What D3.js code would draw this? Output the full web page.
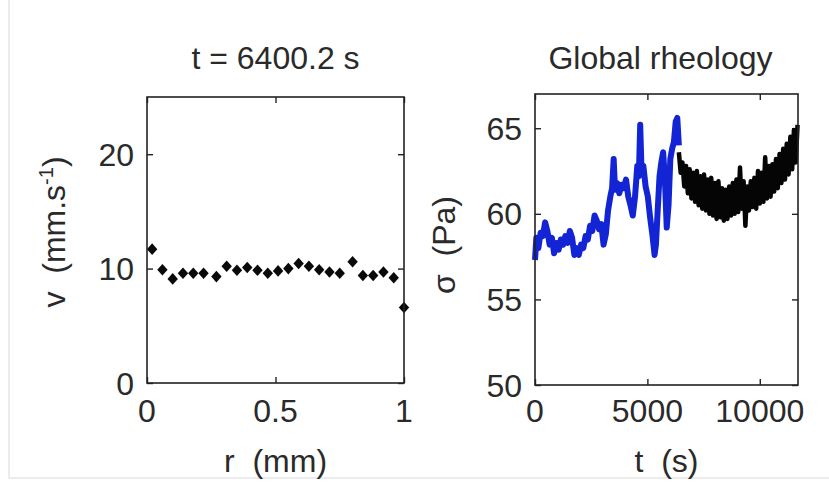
<!DOCTYPE html>
<html><head><meta charset="utf-8">
<script src="https://cdn.jsdelivr.net/npm/d3@7"></script>
<style>
html,body{margin:0;padding:0;background:#fff;}
svg text{font-family:"Liberation Sans",Arial,sans-serif;fill:#2a2a2a;}
</style></head>
<body>
<svg id="chart" width="829" height="483"></svg>
<script>
// ---- Left panel data: velocity profile at t = 6400.2 s
const rValues = [0.02,0.06,0.10,0.14,0.18,0.22,0.27,0.31,0.35,0.39,0.43,0.47,0.51,0.55,0.59,0.63,0.67,0.71,0.75,0.80,0.84,0.88,0.92,0.96,1.00];
const vValues = [11.7,9.9,9.1,9.6,9.6,9.6,9.3,10.2,9.85,10.1,9.85,9.6,9.8,10.0,10.45,10.2,9.9,9.7,9.6,10.6,9.4,9.4,9.7,9.2,6.6];
const leftXTicks = [0,0.5,1];
const leftYTicks = [0,10,20];

// ---- Right panel data: global rheology sigma(t)
const blueT = [0,60,150,250,350,450,550,650,750,850,950,1050,1150,1250,1350,1450,1550,1650,1750,1850,1950,2050,2150,2250,2350,2450,2550,2650,2750,2850,2950,3050,3150,3250,3350,3430,3500,3560,3650,3750,3850,3950,4050,4150,4250,4350,4450,4550,4620,4680,4740,4820,4920,5020,5120,5220,5320,5380,5450,5540,5620,5700,5780,5860,5940,6020,6100,6180,6260,6330,6400];
const blueSigma = [57.3,58.6,58.0,58.9,58.7,59.5,59.0,58.2,58.6,57.7,58.3,57.9,58.5,58.2,58.7,58.3,59.0,58.6,57.6,58.0,57.6,58.2,58.0,58.7,58.5,59.3,59.0,59.9,59.6,59.1,59.4,58.2,58.8,60.2,61.0,61.5,63.2,61.4,61.8,61.2,61.7,61.5,62.0,61.0,60.5,59.9,61.0,62.8,62.2,65.2,62.5,62.8,61.6,61.0,59.8,58.8,57.6,58.2,60.0,62.2,63.0,63.6,62.0,59.2,60.5,63.2,63.8,64.2,65.4,65.6,64.0];
const blackT = [6400,6480,6560,6640,6720,6800,6880,6960,7040,7120,7200,7280,7360,7440,7520,7600,7680,7760,7840,7920,8000,8080,8160,8240,8320,8400,8480,8560,8640,8720,8800,8880,8960,9040,9120,9200,9280,9360,9440,9520,9600,9680,9760,9840,9920,10000,10080,10160,10240,10320,10400,10480,10560,10640,10720,10800,10880,10960,11040,11120,11200,11280,11360,11440,11520,11600,11680];
const blackSigma = [63.6,62.4,63.0,61.6,62.8,61.2,62.6,60.9,62.4,60.7,62.5,60.5,62.2,60.3,62.3,60.2,62.0,60.0,62.1,59.9,61.8,59.7,61.9,59.8,61.5,59.6,61.4,59.7,61.6,59.9,61.8,60.0,62.0,60.1,62.7,60.3,61.9,59.3,61.6,60.2,61.9,60.4,62.1,60.3,62.5,60.6,62.4,60.7,63.3,60.9,62.8,61.0,62.9,61.3,63.2,61.5,63.5,61.8,63.8,62.0,64.1,62.3,64.5,62.6,64.9,63.0,65.2];
const rightXTicks = [0,5000,10000];
const rightYTicks = [50,55,60,65];

const svg = d3.select("#chart");
const FS = 32;
const axisColor = "#222";

// faint page edges of the original frame grab
svg.append("line").attr("x1",9).attr("x2",9).attr("y1",0).attr("y2",478).attr("stroke","#e6e6e6").attr("stroke-width",1.5);
svg.append("line").attr("x1",9).attr("x2",829).attr("y1",478).attr("y2",478).attr("stroke","#e6e6e6").attr("stroke-width",1.5);

function frame(g, x0, x1, y0, y1){
  g.append("rect").attr("x",x0).attr("y",y0).attr("width",x1-x0).attr("height",y1-y0)
   .attr("fill","none").attr("stroke",axisColor).attr("stroke-width",1.6);
}
function styleTicks(g){ g.select(".domain").remove(); g.selectAll("line").attr("stroke",axisColor).attr("stroke-width",1.4); }

// ===== Left panel =====
const L = {x0:147, x1:404, y0:97, y1:383};
const xL = d3.scaleLinear().domain([0,1]).range([L.x0,L.x1]);
const yL = d3.scaleLinear().domain([0,25]).range([L.y1,L.y0]);
const gL = svg.append("g");

gL.append("g").attr("transform",`translate(0,${L.y1})`).call(d3.axisTop(xL).tickValues(leftXTicks).tickSize(6).tickFormat("")).call(styleTicks);
gL.append("g").attr("transform",`translate(0,${L.y0})`).call(d3.axisBottom(xL).tickValues(leftXTicks).tickSize(6).tickFormat("")).call(styleTicks);
gL.append("g").attr("transform",`translate(${L.x0},0)`).call(d3.axisRight(yL).tickValues(leftYTicks).tickSize(6).tickFormat("")).call(styleTicks);
gL.append("g").attr("transform",`translate(${L.x1},0)`).call(d3.axisLeft(yL).tickValues(leftYTicks).tickSize(6).tickFormat("")).call(styleTicks);

const diamond = "M0,-5.8L5.2,0L0,5.8L-5.2,0Z";
gL.selectAll("path.pt").data(rValues.map((r,i)=>({r, v:vValues[i]}))).join("path")
  .attr("class","pt").attr("d",diamond)
  .attr("transform",d=>`translate(${xL(d.r)},${yL(d.v)})`)
  .attr("fill","#0a0a0a");
frame(gL, L.x0, L.x1, L.y0, L.y1);

gL.selectAll("text.xt").data(leftXTicks).join("text").attr("class","xt")
  .attr("x",d=>xL(d)).attr("y",422).attr("text-anchor","middle").attr("font-size",FS)
  .text(d=>d3.format("")(d));
gL.selectAll("text.yt").data(leftYTicks).join("text").attr("class","yt")
  .attr("x",134).attr("y",d=>yL(d)+11.5).attr("text-anchor","end").attr("font-size",FS)
  .text(d=>d);
gL.append("text").attr("x",(L.x0+L.x1)/2).attr("y",69).attr("text-anchor","middle").attr("font-size",FS)
  .text("t = 6400.2 s");
gL.append("text").attr("x",(L.x0+L.x1)/2).attr("y",472).attr("text-anchor","middle").attr("font-size",FS)
  .attr("xml:space","preserve").text("r  (mm)");
const yl = gL.append("text").attr("transform",`translate(65,232) rotate(-90)`).attr("text-anchor","middle").attr("font-size",FS)
  .attr("xml:space","preserve");
yl.append("tspan").text("v  (mm.s");
yl.append("tspan").attr("font-size",20).attr("dy",-12).text("-1");
yl.append("tspan").attr("dy",12).text(")");

// ===== Right panel =====
const R = {x0:535, x1:798, y0:94, y1:385};
const xR = d3.scaleLinear().domain([0,11700]).range([R.x0,R.x1]);
const yR = d3.scaleLinear().domain([50,67]).range([R.y1,R.y0]);
const gR = svg.append("g");

gR.append("g").attr("transform",`translate(0,${R.y1})`).call(d3.axisTop(xR).tickValues(rightXTicks).tickSize(6).tickFormat("")).call(styleTicks);
gR.append("g").attr("transform",`translate(0,${R.y0})`).call(d3.axisBottom(xR).tickValues(rightXTicks).tickSize(6).tickFormat("")).call(styleTicks);
gR.append("g").attr("transform",`translate(${R.x0},0)`).call(d3.axisRight(yR).tickValues(rightYTicks).tickSize(6).tickFormat("")).call(styleTicks);
gR.append("g").attr("transform",`translate(${R.x1},0)`).call(d3.axisLeft(yR).tickValues(rightYTicks).tickSize(6).tickFormat("")).call(styleTicks);

const line = d3.line().x(d=>xR(d[0])).y(d=>yR(d[1]));
gR.append("path").datum(blackT.map((t,i)=>[t,blackSigma[i]]))
  .attr("d",line).attr("fill","none").attr("stroke","#050505").attr("stroke-width",4.5).attr("stroke-linejoin","round");
gR.append("path").datum(blueT.map((t,i)=>[t,blueSigma[i]]))
  .attr("d",line).attr("fill","none").attr("stroke","#1224d4").attr("stroke-width",6).attr("stroke-linejoin","round");
frame(gR, R.x0, R.x1, R.y0, R.y1);

gR.selectAll("text.xt").data(rightXTicks).join("text").attr("class","xt")
  .attr("x",d=>xR(d)).attr("y",422).attr("text-anchor","middle").attr("font-size",FS)
  .text(d=>d);
gR.selectAll("text.yt").data(rightYTicks).join("text").attr("class","yt")
  .attr("x",522).attr("y",d=>yR(d)+11.5).attr("text-anchor","end").attr("font-size",FS)
  .text(d=>d);
gR.append("text").attr("x",(R.x0+R.x1)/2 - 6).attr("y",69).attr("text-anchor","middle").attr("font-size",FS)
  .text("Global rheology");
gR.append("text").attr("x",(R.x0+R.x1)/2).attr("y",472).attr("text-anchor","middle").attr("font-size",FS)
  .attr("xml:space","preserve").text("t  (s)");
gR.append("text").attr("transform",`translate(455,245) rotate(-90)`).attr("text-anchor","middle").attr("font-size",FS)
  .attr("xml:space","preserve").text("σ  (Pa)");
</script>
</body></html>
